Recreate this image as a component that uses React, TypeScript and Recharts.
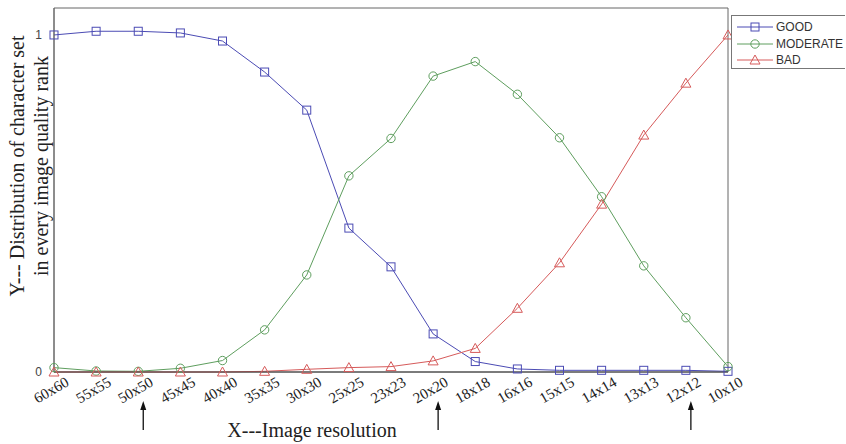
import { LineChart, Line, XAxis, YAxis, Legend, ReferenceArea } from "recharts"

const resolutions = [
  "60x60", "55x55", "50x50", "45x45", "40x40", "35x35", "30x30", "25x25", "23x23",
  "20x20", "18x18", "16x16", "15x15", "14x14", "13x13", "12x12", "10x10",
]
const good = [1.0, 1.011, 1.011, 1.006, 0.982, 0.89, 0.777, 0.427, 0.312, 0.113, 0.031, 0.009, 0.005, 0.005, 0.005, 0.005, 0.002]
const moderate = [0.013, 0.003, 0.002, 0.011, 0.034, 0.125, 0.288, 0.582, 0.693, 0.878, 0.921, 0.824, 0.695, 0.52, 0.315, 0.161, 0.016]
const bad = [0, 0, 0, 0, 0, 0.002, 0.008, 0.013, 0.016, 0.033, 0.07, 0.189, 0.324, 0.498, 0.703, 0.857, 1.0]
const yTicks = [0, 1]
const arrowed = ["50x50", "20x20", "12x12"]

const data = resolutions.map((res, i) => ({
  res,
  GOOD: good[i],
  MODERATE: moderate[i],
  BAD: bad[i],
}))

const series = [
  { key: "GOOD", color: "#4b4bb4", shape: "square" },
  { key: "MODERATE", color: "#5e9e5e", shape: "circle" },
  { key: "BAD", color: "#d65a5a", shape: "triangle" },
]

const serif = "'Liberation Serif', 'Times New Roman', serif"
const sans = "'Liberation Sans', Arial, sans-serif"

function Marker({ cx, cy, shape, color }: any) {
  if (cx == null || cy == null) return null
  if (shape === "square")
    return <rect x={cx - 4} y={cy - 4} width={8} height={8} fill="none" stroke={color} strokeWidth={1} />
  if (shape === "circle")
    return <circle cx={cx} cy={cy} r={4.2} fill="none" stroke={color} strokeWidth={1} />
  return (
    <polygon
      points={`${cx},${cy - 5} ${cx - 5},${cy + 4} ${cx + 5},${cy + 4}`}
      fill="none"
      stroke={color}
      strokeWidth={1}
    />
  )
}

function ResTick(props: any) {
  const { x, y, payload } = props
  const tx = x + 16
  const ty = y + 13
  return (
    <g>
      <text
        x={tx}
        y={ty}
        textAnchor="end"
        transform={`rotate(-30, ${tx}, ${ty})`}
        fontFamily={serif}
        fontSize={15}
        fill="#222"
      >
        {payload.value}
      </text>
      {arrowed.includes(payload.value) && (
        <g>
          <line x1={x + 5} y1={y + 36} x2={x + 5} y2={y + 58} stroke="#111" strokeWidth={1.3} />
          <polygon points={`${x + 5},${y + 29} ${x + 2},${y + 38} ${x + 8},${y + 38}`} fill="#111" />
        </g>
      )}
    </g>
  )
}

function YTitle() {
  return (
    <g fontFamily={serif} fontSize={20} fill="#222">
      <text transform="translate(17,166) rotate(-90)" textAnchor="middle" dominantBaseline="central">
        Y--- Distribution of character set
      </text>
      <text transform="translate(41,166) rotate(-90)" textAnchor="middle" dominantBaseline="central">
        in every image quality rank
      </text>
    </g>
  )
}

function XTitle() {
  return (
    <text x={312} y={437} textAnchor="middle" fontFamily={serif} fontSize={20} fill="#222">
      X---Image resolution
    </text>
  )
}

function LegendBox() {
  return (
    <div
      style={{
        width: 114,
        height: 54,
        border: "1px solid #777",
        borderRight: "none",
        background: "#fff",
        boxSizing: "border-box",
        paddingTop: 3,
        fontFamily: sans,
        fontSize: 12,
        color: "#333",
      }}
    >
      {series.map((s) => (
        <div key={s.key} style={{ display: "flex", alignItems: "center", height: 16.5 }}>
          <svg width={44} height={16} style={{ flex: "none" }}>
            <line x1={5} y1={8} x2={41} y2={8} stroke={s.color} strokeWidth={1} />
            <Marker cx={23} cy={8} shape={s.shape} color={s.color} />
          </svg>
          <span style={{ lineHeight: "16px" }}>{s.key}</span>
        </div>
      ))}
    </div>
  )
}

export default function App() {
  return (
    <div style={{ position: "absolute", left: 0, top: 0, background: "#fff" }}>
      <LineChart
        width={846}
        height={444}
        data={data}
        margin={{ top: 8, right: 118, bottom: 0, left: 0 }}
      >
        <ReferenceArea
          x1="60x60"
          x2="10x10"
          y1={0}
          y2={1.08}
          fill="none"
          stroke="#666"
          strokeWidth={1}
          ifOverflow="visible"
        />
        <XAxis
          dataKey="res"
          interval={0}
          height={72}
          tickLine={false}
          tickSize={0}
          tickMargin={0}
          axisLine={{ stroke: "#444" }}
          tick={<ResTick />}
          label={<XTitle />}
        />
        <YAxis
          width={54}
          domain={[0, 1.08]}
          ticks={yTicks}
          tickLine={false}
          axisLine={{ stroke: "#666" }}
          tickMargin={6}
          tick={{ fontFamily: sans, fontSize: 12, fill: "#444" }}
          label={<YTitle />}
        />
        <Legend
          layout="vertical"
          align="center"
          verticalAlign="middle"
          wrapperStyle={{ left: 731, top: 15, width: 115 }}
          content={<LegendBox />}
        />
        {series.map((s) => (
          <Line
            key={s.key}
            type="linear"
            dataKey={s.key}
            stroke={s.color}
            strokeWidth={1}
            dot={(p: any) => <Marker key={`${s.key}-${p.index}`} cx={p.cx} cy={p.cy} shape={s.shape} color={s.color} />}
            activeDot={false}
            isAnimationActive={false}
          />
        ))}
      </LineChart>
    </div>
  )
}
